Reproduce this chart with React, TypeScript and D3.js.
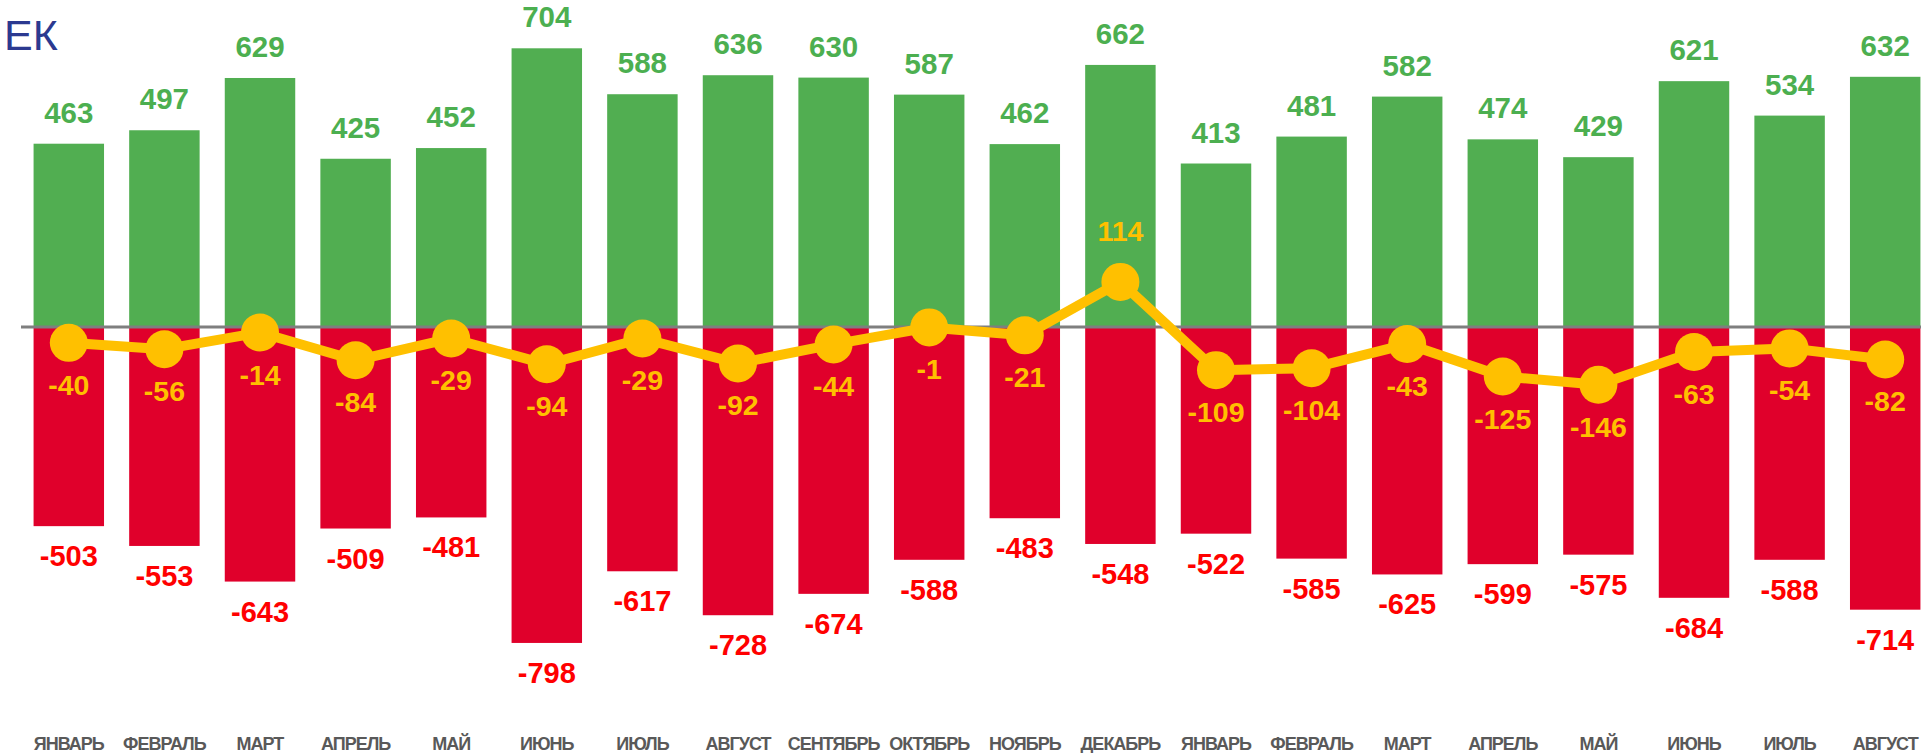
import React from "react";
import * as d3 from "d3";

// ── Data ──────────────────────────────────────────────────────────────────────

const MONTHS = [
  "ЯНВАРЬ", "ФЕВРАЛЬ", "МАРТ", "АПРЕЛЬ", "МАЙ", "ИЮНЬ", "ИЮЛЬ", "АВГУСТ",
  "СЕНТЯБРЬ", "ОКТЯБРЬ", "НОЯБРЬ", "ДЕКАБРЬ", "ЯНВАРЬ", "ФЕВРАЛЬ", "МАРТ",
  "АПРЕЛЬ", "МАЙ", "ИЮНЬ", "ИЮЛЬ", "АВГУСТ",
];
const INFLOW = [463, 497, 629, 425, 452, 704, 588, 636, 630, 587, 462, 662, 413, 481, 582, 474, 429, 621, 534, 632];
const OUTFLOW = [-503, -553, -643, -509, -481, -798, -617, -728, -674, -588, -483, -548, -522, -585, -625, -599, -575, -684, -588, -714];
const NET = [-40, -56, -14, -84, -29, -94, -29, -92, -44, -1, -21, 114, -109, -104, -43, -125, -146, -63, -54, -82];

// ── Layout ────────────────────────────────────────────────────────────────────

const W = 1921;
const H = 753;
const FONT = "'Liberation Sans', Arial, sans-serif";

const GREEN = "#51ae51";
const GREEN_TEXT = "#4caf50";
const RED = "#e0002b";
const RED_TEXT = "#ff0000";
const YELLOW = "#ffc000";

export default function App() {
  const idx = MONTHS.map((_, i) => String(i));

  const x = d3
    .scaleBand()
    .domain(idx)
    .range([21, 1933])
    .paddingInner(0.263)
    .paddingOuter(0.1315);

  // zero sits at y≈327, ~0.396 px per unit
  const y = d3.scaleLinear().domain([-1076, 826]).range([H, 0]);

  const cx = (i: number) => (x(String(i)) ?? 0) + x.bandwidth() / 2;

  const line = d3
    .line<number>()
    .x((_, i) => cx(i))
    .y((d) => y(d));

  return (
    <svg
      width={W}
      height={H}
      style={{ position: "absolute", left: 0, top: 0, background: "#fff" }}
      fontFamily={FONT}
    >
      <text x={4} y={50} fontSize={43} fill="#2b3990">
        ЕК
      </text>

      {/* inflow bars */}
      {INFLOW.map((v, i) => (
        <rect
          key={`p${i}`}
          x={x(String(i))}
          y={y(v)}
          width={x.bandwidth()}
          height={y(0) - y(v)}
          fill={GREEN}
        />
      ))}

      {/* outflow bars */}
      {OUTFLOW.map((v, i) => (
        <rect
          key={`n${i}`}
          x={x(String(i))}
          y={y(0)}
          width={x.bandwidth()}
          height={y(v) - y(0)}
          fill={RED}
        />
      ))}

      {/* zero line */}
      <line x1={21} x2={W} y1={y(0)} y2={y(0)} stroke="#7f7f7f" strokeWidth={3} />

      {/* net line + markers */}
      <path d={line(NET) ?? ""} fill="none" stroke={YELLOW} strokeWidth={10} strokeLinejoin="round" />
      {NET.map((v, i) => (
        <circle key={`c${i}`} cx={cx(i)} cy={y(v)} r={19} fill={YELLOW} />
      ))}

      {/* labels */}
      {INFLOW.map((v, i) => (
        <text
          key={`pl${i}`}
          x={cx(i)}
          y={y(v) - 21}
          textAnchor="middle"
          fontSize={29.5}
          fontWeight="bold"
          fill={GREEN_TEXT}
        >
          {v}
        </text>
      ))}
      {OUTFLOW.map((v, i) => (
        <text
          key={`nl${i}`}
          x={cx(i)}
          y={y(v) + 40}
          textAnchor="middle"
          fontSize={29}
          fontWeight="bold"
          fill={RED_TEXT}
        >
          {v}
        </text>
      ))}
      {NET.map((v, i) => (
        <text
          key={`ll${i}`}
          x={cx(i)}
          y={v >= 0 ? y(v) - 41 : y(v) + 52}
          textAnchor="middle"
          fontSize={28.5}
          fontWeight="bold"
          fill={YELLOW}
        >
          {v}
        </text>
      ))}

      {/* category axis */}
      {MONTHS.map((m, i) => (
        <text
          key={`m${i}`}
          x={cx(i)}
          y={750}
          textAnchor="middle"
          fontSize={18}
          fontWeight="bold"
          letterSpacing={-1}
          fill="#595959"
        >
          {m}
        </text>
      ))}
    </svg>
  );
}
